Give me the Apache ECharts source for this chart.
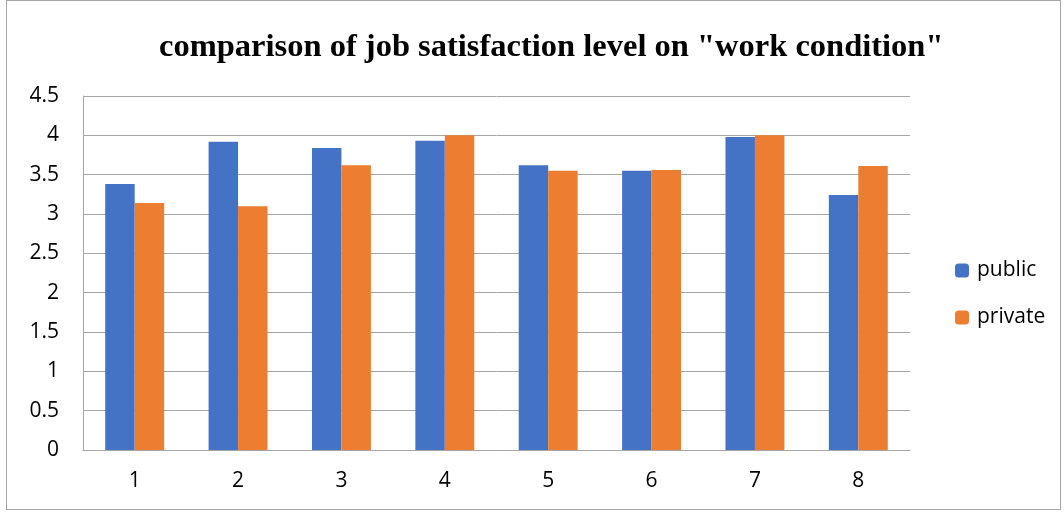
<!DOCTYPE html>
<html><head><meta charset="utf-8">
<script src="https://cdn.jsdelivr.net/npm/echarts@6/dist/echarts.min.js"></script>
<style>
html,body{margin:0;padding:0;background:#fff;}
#frame{position:absolute;left:6px;top:0px;width:1055px;height:510px;border:1px solid #a6a6a6;box-sizing:border-box;}
#c{position:absolute;left:0;top:0;width:1064px;height:512px;}
</style></head>
<body>
<div id="frame"></div>
<div id="c"></div>
<script>
const categories = ['1','2','3','4','5','6','7','8'];
const publicValues = [3.38, 3.92, 3.84, 3.93, 3.62, 3.55, 3.98, 3.24];
const privateValues = [3.14, 3.10, 3.62, 4.00, 3.55, 3.56, 4.00, 3.61];
const yTicks = [0, 0.5, 1, 1.5, 2, 2.5, 3, 3.5, 4, 4.5];

const chart = echarts.init(document.getElementById('c'), null, {renderer:'canvas'});
chart.setOption({
  animation:false,
  title:{
    text:'comparison of job satisfaction level on "work condition"',
    left:154, top:26,
    textStyle:{fontFamily:'Liberation Serif', fontWeight:'bold', fontSize:32.5, color:'#000'}
  },
  legend:{
    orient:'vertical', left:950, top:255, itemWidth:14, itemHeight:14, itemGap:26,
    textStyle:{fontFamily:'Open Sans', fontSize:21, color:'#000', padding:[0,0,0,3]},
    data:['public','private']
  },
  grid:{left:83, right:154, top:96, bottom:62},
  xAxis:{
    type:'category', data:categories,
    axisLine:{lineStyle:{color:'#a6a6a6'}},
    axisTick:{show:false},
    axisLabel:{fontFamily:'Open Sans', fontSize:21, color:'#000', margin:21}
  },
  yAxis:{
    type:'value', min:0, max:4.5, interval:0.5,
    axisLine:{show:true, lineStyle:{color:'#a6a6a6'}},
    axisLabel:{fontFamily:'Open Sans', fontSize:21, color:'#000', margin:24,
      formatter:v=>{const t=yTicks.find(x=>Math.abs(x-v)<1e-9); return t===undefined?'':String(t);}},
    splitLine:{lineStyle:{color:'#a6a6a6'}}
  },
  series:[
    {name:'public', type:'bar', data:publicValues, itemStyle:{color:'#4472C4'}, barGap:'0%', barCategoryGap:'43%'},
    {name:'private', type:'bar', data:privateValues, itemStyle:{color:'#ED7D31'}, barGap:'0%', barCategoryGap:'43%'}
  ]
});
</script>
</body></html>
